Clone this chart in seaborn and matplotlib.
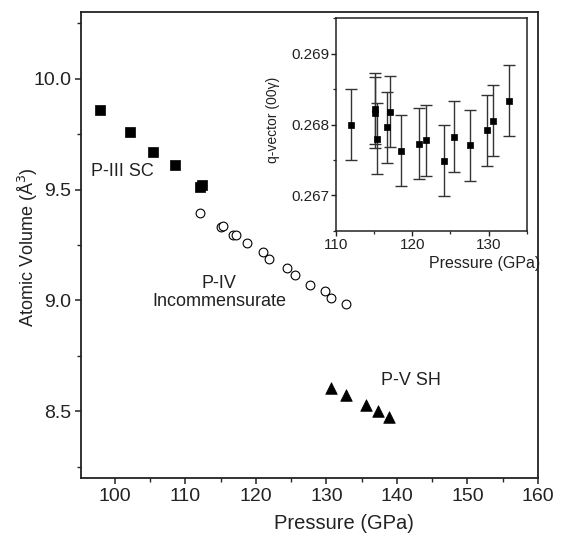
import matplotlib
matplotlib.use("Agg")
import matplotlib.pyplot as plt
from matplotlib.ticker import MultipleLocator
import seaborn as sns
import pandas as pd

sns.set_theme(style="ticks")
plt.rcParams['font.family'] = ['Liberation Sans', 'DejaVu Sans']

# P-III SC
p3_pressure = [97.9, 102.2, 105.4, 108.5, 112.1, 112.3]
p3_volume = [9.857, 9.761, 9.668, 9.609, 9.510, 9.521]
# P-IV incommensurate
p4_pressure = [112.1, 115.1, 115.4, 116.8, 117.2, 118.7, 121.0, 121.8, 124.4, 125.6, 127.7, 129.8, 130.7, 132.8]
p4_volume = [9.392, 9.330, 9.335, 9.297, 9.294, 9.257, 9.218, 9.188, 9.147, 9.113, 9.071, 9.041, 9.012, 8.985]
# P-V SH
p5_pressure = [130.6, 132.8, 135.6, 137.3, 138.9]
p5_volume = [8.605, 8.575, 8.527, 8.501, 8.476]

# inset: q-vector
q_pressure = [112.0, 115.16, 115.16, 115.34, 116.65, 117.04, 118.53, 120.85, 121.77, 124.22, 125.53, 127.54, 129.77, 130.56, 132.66]
q_value = [0.26800, 0.268226, 0.268165, 0.267798, 0.267962, 0.268179, 0.267628, 0.267727, 0.267779,
           0.267487, 0.267826, 0.267708, 0.267920, 0.268052, 0.268334]
q_error = [0.0005] * 15

fig = plt.figure(figsize=(5.65, 5.34), dpi=100)
ax = fig.add_axes([0.1434, 0.1049, 0.8088, 0.8726])

d3 = pd.DataFrame({"P": p3_pressure, "V": p3_volume})
d4 = pd.DataFrame({"P": p4_pressure, "V": p4_volume})
d5 = pd.DataFrame({"P": p5_pressure, "V": p5_volume})

sns.scatterplot(data=d3, x="P", y="V", ax=ax, marker="s", s=42, color="black", edgecolor="black", linewidth=0.5)
sns.scatterplot(data=d4, x="P", y="V", ax=ax, marker="o", s=40, facecolor="white", edgecolor="black", linewidth=0.8)
sns.scatterplot(data=d5, x="P", y="V", ax=ax, marker="^", s=70, color="black", edgecolor="black", linewidth=0.5)

ax.set_xlim(95.2, 160)
ax.set_ylim(8.2, 10.3)
ax.xaxis.set_major_locator(MultipleLocator(10))
ax.xaxis.set_minor_locator(MultipleLocator(5))
ax.yaxis.set_major_locator(MultipleLocator(0.5))
ax.yaxis.set_minor_locator(MultipleLocator(0.25))
ax.yaxis.set_major_formatter(matplotlib.ticker.FormatStrFormatter('%.1f'))
ax.tick_params(which='major', direction='out', length=4, width=1.1, labelsize=14, colors='#222222', pad=3)
ax.tick_params(which='minor', direction='out', length=3, width=1.0)
for sp in ax.spines.values():
    sp.set_linewidth(1.3)
    sp.set_color('#222222')
ax.set_xlabel("")
ax.set_ylabel("")
ax.text(0.575, -0.097, "Pressure (GPa)", transform=ax.transAxes, ha='center', va='center', fontsize=14.5, color='#222222')
ax.text(-0.117, 0.496, "Atomic Volume (Å$^3$)", transform=ax.transAxes, ha='center', va='center',
        rotation=90, fontsize=13, color='#222222')

ax.text(96.6, 9.581, "P-III SC", ha='left', va='center', fontsize=13, color='#222222')
ax.text(114.8, 9.037, "P-IV\nIncommensurate", ha='center', va='center', fontsize=13, color='#222222',
        linespacing=1.05)
ax.text(142.0, 8.640, "P-V SH", ha='center', va='center', fontsize=13, color='#222222')

# inset
axi = fig.add_axes([0.5947, 0.5680, 0.3375, 0.3977])
axi.errorbar(q_pressure, q_value, yerr=q_error, fmt='none', ecolor='#333333', elinewidth=1.0,
             capsize=4, capthick=1.0, zorder=1)
dq = pd.DataFrame({"P": q_pressure, "q": q_value})
sns.scatterplot(data=dq, x="P", y="q", ax=axi, marker="s", s=20, color="black", edgecolor="black",
                linewidth=0.5, zorder=3)
axi.set_xlim(110, 135)
axi.set_ylim(0.2665, 0.2695)
axi.xaxis.set_major_locator(MultipleLocator(10))
axi.xaxis.set_minor_locator(MultipleLocator(5))
axi.yaxis.set_major_locator(MultipleLocator(0.001))
axi.yaxis.set_minor_locator(MultipleLocator(0.0005))
axi.yaxis.set_major_formatter(matplotlib.ticker.FormatStrFormatter('%.3f'))
axi.tick_params(which='major', direction='out', length=3.5, width=1.0, labelsize=11, colors='#222222', pad=1.5)
axi.tick_params(which='minor', direction='out', length=2.5, width=0.9)
for sp in axi.spines.values():
    sp.set_linewidth(1.1)
    sp.set_color('#222222')
axi.set_xlabel("")
axi.set_ylabel("")
axi.text(0.78, -0.155, "Pressure (GPa)", transform=axi.transAxes, ha='center', va='center', fontsize=11.5, color='#222222')
axi.text(-0.33, 0.52, "q-vector (00γ)", transform=axi.transAxes, ha='center', va='center', rotation=90,
         fontsize=10, color='#222222')

fig.savefig("out.png", dpi=100)
